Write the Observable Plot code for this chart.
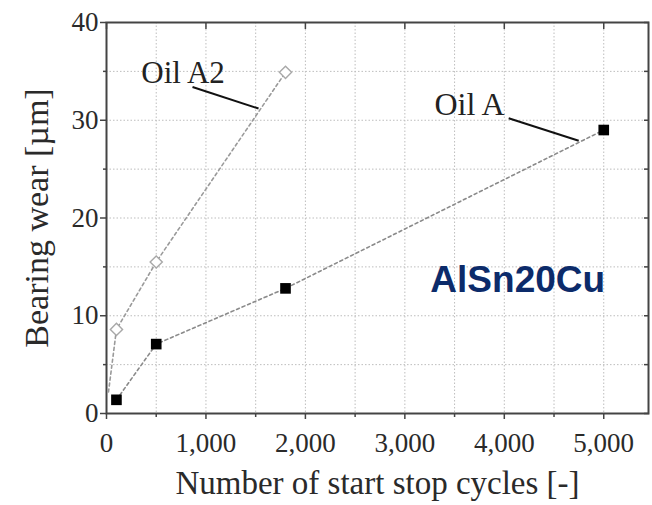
<!DOCTYPE html>
<html>
<head>
<meta charset="utf-8">
<script src="https://cdn.jsdelivr.net/npm/d3@7"></script>
<script src="https://cdn.jsdelivr.net/npm/@observablehq/plot@0.6"></script>
<style>
  html, body { margin: 0; padding: 0; background: #fff; }
  #chart svg { display: block; }
</style>
</head>
<body>
<div id="chart"></div>
<script>
// Data
const oilA_cycles = [100, 500, 1800, 5000];
const oilA_wear = [1.4, 7.1, 12.8, 29.0];
const oilA2_cycles = [100, 500, 1800];
const oilA2_wear = [8.6, 15.5, 34.9];
// dashed trend line of Oil A2 starts near the origin
const oilA2Line_cycles = [20, 100, 500, 1800];
const oilA2Line_wear = [2.2, 8.6, 15.5, 34.9];

const xTicks = [0, 1000, 2000, 3000, 4000, 5000];
const xTickLabels = ["0", "1,000", "2,000", "3,000", "4,000", "5,000"];
const xMinorTicks = [500, 1500, 2500, 3500, 4500];
const yTicks = [0, 10, 20, 30, 40];
const yMinorTicks = [5, 15, 25, 35];
const xGrid = [500, 1000, 1500, 2000, 2500, 3000, 3500, 4000, 4500, 5000];
const yGrid = [5, 10, 15, 20, 25, 30, 35];

const labels = [
  {name: "Oil A2", x: 770, y: 34.8, size: 31},
  {name: "Oil A", x: 3650, y: 31.6, size: 32}
];
const leaders = [
  {x1: 865, y1: 33.4, x2: 1529, y2: 31.2},
  {x1: 4044, y1: 30.2, x2: 4748, y2: 27.9}
];
const alloy = {name: "AlSn20Cu", x: 4135, y: 13.6};

const xTitle = "Number of start stop cycles [-]";
const yTitle = "Bearing wear [µm]";

const oilA = oilA_cycles.map((c, i) => ({c, w: oilA_wear[i]}));
const oilA2 = oilA2_cycles.map((c, i) => ({c, w: oilA2_wear[i]}));
const oilA2Line = oilA2Line_cycles.map((c, i) => ({c, w: oilA2Line_wear[i]}));

const serif = "'Liberation Serif', 'DejaVu Serif', serif";
const axisCol = "#2a2a2a";

const chart = Plot.plot({
  width: 652,
  height: 505,
  marginLeft: 106,
  marginRight: 4,
  marginTop: 22,
  marginBottom: 92,
  style: {fontFamily: serif, background: "#fff", overflow: "visible"},
  x: {domain: [0, 5450]},
  y: {domain: [0, 40]},
  marks: [
    Plot.gridX(xGrid, {stroke: "#bdbdbd", strokeOpacity: 1, strokeDasharray: "1.5,2"}),
    Plot.gridY(yGrid, {stroke: "#bdbdbd", strokeOpacity: 1, strokeDasharray: "1.5,2"}),
    Plot.frame({stroke: "#444", strokeWidth: 2}),
    // bottom axis
    Plot.axisX({anchor: "bottom", ticks: xTicks, tickFormat: (d) => xTickLabels[xTicks.indexOf(d)],
      tickSize: 6, tickPadding: 13, fontSize: 27, fill: axisCol, stroke: "#444", strokeWidth: 1.5, label: null}),
    Plot.axisX({anchor: "bottom", ticks: xMinorTicks, tickSize: 4, text: null, stroke: "#444", strokeWidth: 1.5, label: null}),
    // top axis (inward ticks)
    Plot.axisX({anchor: "top", ticks: xTicks, tickSize: -6, text: null, stroke: "#444", strokeWidth: 1.5, label: null}),
    // left axis
    Plot.axisY({anchor: "left", ticks: yTicks, tickSize: 6, tickPadding: 2, fontSize: 27, fill: axisCol, stroke: "#444", strokeWidth: 1.5, label: null}),
    Plot.axisY({anchor: "left", ticks: yMinorTicks, tickSize: 3, text: null, stroke: "#444", strokeWidth: 1.5, label: null}),
    // right axis (inward ticks)
    Plot.axisY({anchor: "right", ticks: yTicks.concat(yMinorTicks), tickSize: -5, text: null, stroke: "#444", strokeWidth: 1.5, label: null}),
    // dashed lines
    Plot.line(oilA, {x: "c", y: "w", stroke: "#8a8a8a", strokeWidth: 1.6, strokeDasharray: "3,3"}),
    Plot.line(oilA2Line, {x: "c", y: "w", stroke: "#9a9a9a", strokeWidth: 1.6, strokeDasharray: "3,3"}),
    // markers
    Plot.dot(oilA, {x: "c", y: "w", symbol: "square", r: 6, fill: "#000", stroke: "none"}),
    Plot.dot(oilA2, {x: "c", y: "w", symbol: "diamond2", r: 5.5, fill: "#fff", stroke: "#a8a8a8", strokeWidth: 1.4}),
    // leaders & labels
    Plot.link(leaders, {x1: "x1", y1: "y1", x2: "x2", y2: "y2", stroke: "#111", strokeWidth: 2}),
    Plot.text(labels, {x: "x", y: "y", text: "name", fontSize: (d) => d.size, fill: "#222", fontFamily: serif}),
    Plot.text([alloy], {x: "x", y: "y", text: "name", fontSize: 37, fontWeight: "bold", fill: "#0c2b6a",
      fontFamily: "'Liberation Sans', Arial, sans-serif"}),
    // axis titles
    Plot.text([xTitle], {frameAnchor: "bottom", dy: 80, text: (d) => d, fontSize: 33, fill: "#2a2a2a", fontFamily: serif, textAnchor: "middle"}),
    Plot.text([yTitle], {frameAnchor: "left", dx: -69, rotate: -90, text: (d) => d, fontSize: 34, fill: "#2a2a2a", fontFamily: serif, textAnchor: "middle"})
  ]
});
document.getElementById("chart").appendChild(chart);
</script>
</body>
</html>
